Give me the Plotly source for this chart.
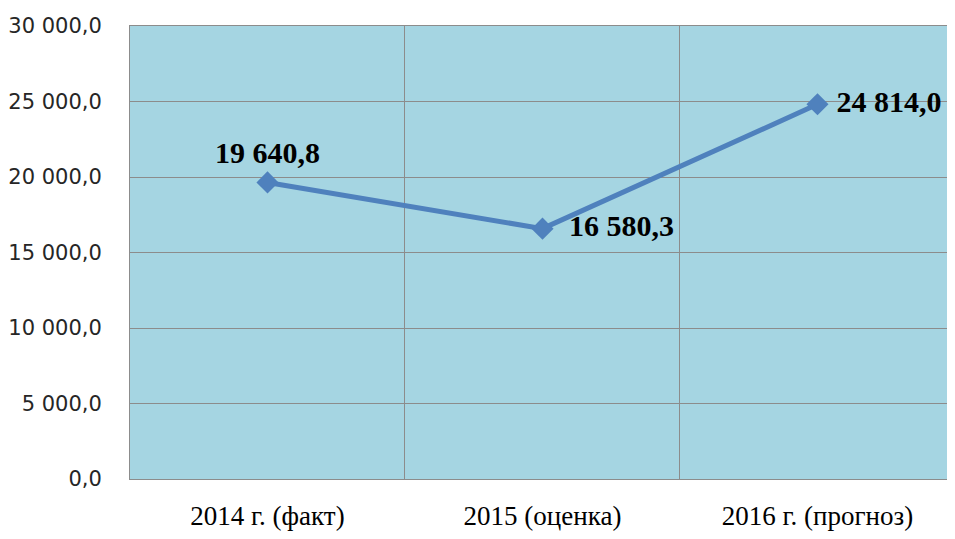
import plotly.graph_objects as go

years = ['2014 г. (факт)', '2015 (оценка)', '2016 г. (прогноз)']
values = [19640.8, 16580.3, 24814.0]
label_pos = ['top center', 'middle right', 'middle right']
label_fmt = ['<b>%{y:,.1f}</b>',
             '\u00a0\u00a0<b>%{y:,.1f}</b>',
             '\u00a0<b>%{y:,.1f}</b>']

fig = go.Figure()

fig.add_trace(go.Scatter(
    x=years,
    y=values,
    mode='lines+markers+text',
    line=dict(color='#4F81BD', width=5),
    marker=dict(symbol='diamond', size=17, color='#4F81BD'),
    texttemplate=label_fmt,
    textposition=label_pos,
    textfont=dict(family='Liberation Serif', size=30, color='#000000'),
    cliponaxis=False,
))

# page body has an 8px margin, so the figure is sized to fit the window
fig.update_layout(width=939, height=523, showlegend=False,
                  separators=', ',
                  margin=dict(l=122, r=0, t=18, b=52, autoexpand=False),
                  paper_bgcolor='white', plot_bgcolor='#A5D5E2')

fig.update_yaxes(range=[0, 30000], dtick=5000, tickformat=',.1f',
                 showgrid=True, gridcolor='#8C8C8C', gridwidth=1,
                 showline=True, linecolor='#8C8C8C', mirror=False,
                 zeroline=False, ticks='', ticklabelstandoff=23,
                 automargin=False,
                 tickfont=dict(family='DejaVu Sans', size=21, color='#262626'))
fig.update_xaxes(range=[-0.5, 2.471], tickson='boundaries',
                 showgrid=True, gridcolor='#8C8C8C', gridwidth=1,
                 showline=True, linecolor='#8C8C8C', mirror=True,
                 ticks='', ticklabelstandoff=13, automargin=False,
                 tickfont=dict(family='Liberation Serif', size=27, color='#000000'))

fig.write_html("out.html")
